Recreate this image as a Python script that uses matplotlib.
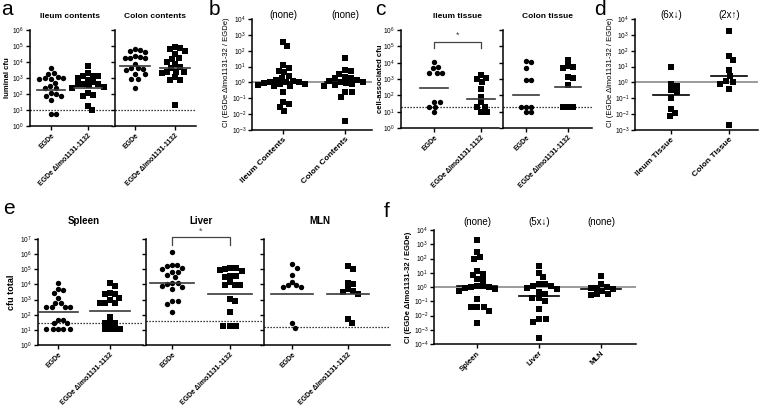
import matplotlib

matplotlib.use("Agg")

import matplotlib.pyplot as plt
import numpy as np
from matplotlib.ticker import FuncFormatter, LogLocator, NullLocator

plt.rcParams["font.family"] = ["Liberation Sans", "DejaVu Sans"]

# ---- data (log10 of values) ----
mut = "EGDe \u0394lmo1131-1132"
cfu_labels = ["EGDe", mut]

# a: luminal cfu
a_ileum_egde = [3.6, 3.29, 3.23, 3.04, 2.98, 2.98, 2.94, 2.94, 2.67, 2.52, 2.35, 2.35,
                2.05, 1.98, 1.9, 1.9, 1.6, 0.73, 0.73]
a_ileum_mut = [3.73, 3.29, 3.15, 3.15, 3.13, 2.98, 2.88, 2.77, 2.6, 2.6, 2.6, 2.55, 2.46,
               2.4, 2.04, 1.94, 1.9, 1.27, 1.0]
a_colon_egde = [4.81, 4.75, 4.69, 4.65, 4.38, 4.31, 4.23, 4.23, 4.23, 3.9, 3.6, 3.6, 3.54,
                3.5, 3.23, 3.23, 2.94, 2.94, 2.4]
a_colon_mut = [4.96, 4.9, 4.81, 4.69, 4.48, 4.23, 4.19, 4.02, 3.85, 3.67, 3.6, 3.4, 3.4,
               3.35, 3.29, 3.08, 2.88, 2.88, 1.31]
a_medians = [2.25, 2.4, 3.77, 3.65]
a_lod = 1.0

# b: CI luminal
b_labels = ["Ileum Contents", "Colon Contents"]
b_ileum = [2.58, 2.27, 1.07, 0.92, 0.75, 0.64, 0.39, 0.28, 0.17, 0.1, 0.05, 0.0, 0.0,
           -0.05, -0.08, -0.1, -0.15, -0.2, -0.25, -0.58, -1.22, -1.37, -1.55, -1.8]
b_colon = [1.57, 0.77, 0.71, 0.56, 0.34, 0.3, 0.25, 0.17, 0.1, 0.05, 0.0, -0.05, -0.1,
           -0.15, -0.2, -0.58, -0.58, -0.9, -2.45]
b_medians = [0.05, 0.0]
b_notes = ["(none)", "(none)"]

# c: cell-associated cfu
c_ileum_egde = [4.02, 3.76, 3.65, 3.39, 3.35, 3.39, 1.61, 1.61, 1.3, 1.3, 0.96]
c_ileum_mut = [3.24, 3.08, 3.0, 2.8, 2.39, 1.92, 1.57, 1.3, 1.3, 0.96, 0.96]
c_colon_egde = [4.12, 4.06, 3.65, 2.94, 2.94, 1.3, 1.3, 1.3, 0.96, 0.96]
c_colon_mut = [4.16, 3.82, 3.76, 3.7, 3.14, 3.04, 2.63, 1.3, 1.3, 1.3]
c_medians = [2.43, 1.8, 2.02, 2.53]
c_lod = 1.3

# d: CI tissue
d_labels = ["Ileum Tissue", "Colon Tissue"]
d_ileum = [1.0, -0.12, -0.2, -0.5, -0.62, -1.0, -1.65, -1.92, -2.12]
d_colon = [3.24, 1.69, 1.42, 0.76, 0.39, 0.1, 0.04, -0.1, -0.43, -2.68]
d_medians = [-0.78, 0.41]
d_notes = ["(6x\u2193)", "(2x\u2191)"]

# e: cfu total
e_spleen_egde = [4.12, 3.72, 3.63, 3.45, 3.12, 2.79, 2.79, 2.52, 2.52, 2.52, 2.52, 1.68,
                 1.68, 1.42, 1.42, 1.06, 1.06, 1.06, 1.06, 1.06]
e_spleen_mut = [4.07, 3.89, 3.45, 3.4, 3.34, 3.12, 3.0, 2.79, 2.79, 2.79, 1.86, 1.42,
                1.42, 1.42, 1.06, 1.06, 1.06, 1.06]
e_liver_egde = [6.15, 5.31, 5.27, 5.22, 5.1, 5.04, 4.82, 4.82, 4.6, 4.49, 4.11, 4.11,
                4.0, 3.9, 3.82, 3.72, 2.9, 2.9, 2.74, 2.17]
e_liver_mut = [5.11, 5.11, 5.0, 4.96, 4.9, 4.56, 4.56, 4.5, 4.18, 3.96, 3.96, 3.96, 3.05,
               2.9, 2.17, 1.28, 1.28, 1.28]
e_mln_egde = [5.33, 5.11, 4.6, 4.16, 3.93, 3.93, 3.85, 3.85, 1.46, 1.13]
e_mln_mut = [5.22, 5.04, 4.07, 4.0, 3.72, 3.56, 3.5, 3.38, 1.73, 1.46]
e_medians = [2.17, 2.23, 4.07, 3.34, 3.38, 3.34]
e_lods = [1.42, 1.57, 1.17]
e_titles = ["Spleen", "Liver", "MLN"]

# f: CI systemic
f_labels = ["Spleen", "Liver", "MLN"]
f_spleen = [3.3, 2.48, 2.08, 1.94, 1.12, 0.91, 0.84, 0.54, 0.49, 0.1, 0.05, 0.0, 0.0,
            -0.05, -0.16, -0.25, -0.84, -1.38, -1.38, -1.43, -1.66, -2.55]
f_liver = [1.47, 1.0, 0.7, 0.23, 0.19, 0.1, 0.07, -0.05, -0.16, -0.35, -0.47, -0.8, -0.8,
           -0.98, -1.52, -2.27, -2.27, -2.43, -3.6]
f_mln = [0.77, 0.23, 0.0, -0.05, -0.1, -0.16, -0.28, -0.47, -0.51, -0.58]
f_medians = [0.05, -0.63, -0.12]
f_notes = ["(none)", "(5x\u2193)", "(none)"]

ci_label = "CI (EGDe \u0394lmo1131-32 / EGDe)"

W, H = 760, 412
fig = plt.figure(figsize=(W / 100, H / 100), dpi=100)


def make_axes(box, cats_px, ylo, yhi, ylabels=True):
    x0, y0, x1, y1 = box
    ax = fig.add_axes([x0 / W, 1 - y1 / H, (x1 - x0) / W, (y1 - y0) / H])
    step = (cats_px[-1] - cats_px[0]) / (len(cats_px) - 1)
    ax.set_xlim((x0 - cats_px[0]) / step, (x1 - cats_px[0]) / step)
    ax.set_yscale("log")
    ax.set_ylim(10.0 ** ylo, 10.0 ** yhi)
    ax.yaxis.set_major_locator(LogLocator(base=10, numticks=30))
    ax.yaxis.set_minor_locator(NullLocator())
    ax.yaxis.set_major_formatter(
        FuncFormatter(lambda v, p: r"$\mathregular{10^{%d}}$" % round(np.log10(v))))
    ax.set_xticks(range(len(cats_px)))
    for side in ("top", "right"):
        ax.spines[side].set_visible(False)
    for side in ("left", "bottom"):
        ax.spines[side].set_linewidth(1.1)
    ax.tick_params(length=3, width=1, labelsize=4.8, pad=1.2)
    if not ylabels:
        ax.tick_params(axis="y", labelleft=False)
    return ax


def swarm(ax, xc, vals, d_px):
    # simple beeswarm in pixel space so equal values sit side by side
    vals = 10.0 ** np.asarray(vals, dtype=float)
    disp = ax.transData.transform(np.column_stack([np.full(len(vals), xc), vals]))
    x0 = disp[0, 0]
    ys = disp[:, 1]
    xs = np.full(len(vals), x0)
    offsets = sorted(np.arange(-12, 12.01, 0.25) * d_px, key=lambda o: (abs(o), -o))
    placed = []
    for i in np.argsort(-ys):
        for off in offsets:
            if all((x0 + off - px) ** 2 + (ys[i] - py) ** 2 >= d_px ** 2 for px, py in placed):
                xs[i] = x0 + off
                break
        placed.append((xs[i], ys[i]))
    back = ax.transData.inverted().transform(np.column_stack([xs, ys]))
    return back[:, 0], vals


def column(ax, i, vals, marker, size, d_px):
    xs, ys = swarm(ax, i, vals, d_px)
    ax.scatter(xs, ys, marker=marker, s=size, color="black", linewidths=0, zorder=3)


def median(ax, i, v, hw, color):
    ax.plot([i - hw, i + hw], [10.0 ** v] * 2, color=color, lw=1.2, zorder=4)


def cfu_pair(ax, egde, mutant, meds, hw, lod):
    column(ax, 0, egde, "o", 15, 5.2)
    column(ax, 1, mutant, "s", 14, 5.2)
    for i in range(2):
        median(ax, i, meds[i], hw, "#3a3a3a")
    ax.axhline(10.0 ** lod, color="black", lw=0.9, ls=(0, (1, 1.4)), zorder=1)
    ax.set_xticklabels(cfu_labels, rotation=45, ha="right", rotation_mode="anchor",
                       fontsize=5, fontweight="bold")


def ci_panel(ax, groups, meds, hw, labels, label_size, notes, note_pts):
    ax.axhline(1.0, color="#8a8a8a", lw=1.2, zorder=2)
    for i, vals in enumerate(groups):
        column(ax, i, vals, "s", 22, 5.9)
        median(ax, i, meds[i], hw, "black")
    ax.set_xticklabels(labels, rotation=45, ha="right", rotation_mode="anchor",
                       fontsize=label_size, fontweight="bold")
    for i, t in enumerate(notes):
        ax.annotate(t, xy=(i, 1), xycoords=("data", "axes fraction"), xytext=(0, note_pts),
                    textcoords="offset points", ha="center", va="center", fontsize=7,
                    annotation_clip=False)


def title(ax, text, pts, size):
    ax.annotate(text, xy=(0.5, 1), xycoords=("data", "axes fraction"), xytext=(0, pts),
                textcoords="offset points", ha="center", va="center", fontsize=size,
                fontweight="bold", annotation_clip=False)


def bracket(ax, top, drop, star):
    ax.plot([0, 0, 1, 1], [10.0 ** drop, 10.0 ** top, 10.0 ** top, 10.0 ** drop],
            color="#444444", lw=0.9, clip_on=False)
    ax.text(0.5, 10.0 ** star, "*", ha="center", va="center", fontsize=6.5, color="#444444")


def side_label(x, y, text, size, weight="normal"):
    fig.text(x / W, 1 - y / H, text, rotation=90, ha="center", va="center",
             fontsize=size, fontweight=weight)


def letter(x, y, text):
    fig.text(x / W, 1 - y / H, text, fontsize=15, va="baseline")


# ---- panel a ----
a1 = make_axes((30, 30, 112, 126), [51, 88], 0, 6)
a2 = make_axes((115, 30, 196, 126), [135, 175], 0, 6, ylabels=False)
cfu_pair(a1, a_ileum_egde, a_ileum_mut, a_medians[:2], 0.38, a_lod)
cfu_pair(a2, a_colon_egde, a_colon_mut, a_medians[2:], 0.38, a_lod)
title(a1, "Ileum contents", 10, 6)
title(a2, "Colon contents", 10, 6)
side_label(8, 78, "luminal cfu", 5.5, "bold")
letter(1, 15, "a")

# ---- panel b ----
b = make_axes((252, 19, 372, 130), [283, 345], -3, 4)
ci_panel(b, [b_ileum, b_colon], b_medians, 0.32, b_labels, 6, b_notes, 3)
side_label(227, 72, ci_label, 5.5)
letter(209, 15, "b")

# ---- panel c ----
c1 = make_axes((401, 30, 499, 128), [434, 481], 0, 6)
c2 = make_axes((503, 30, 592, 128), [526, 568], 0, 6, ylabels=False)
cfu_pair(c1, c_ileum_egde, c_ileum_mut, c_medians[:2], 0.3, c_lod)
cfu_pair(c2, c_colon_egde, c_colon_mut, c_medians[2:], 0.3, c_lod)
bracket(c1, 5.27, 4.9, 5.7)
title(c1, "Ileum tissue", 10, 6)
title(c2, "Colon tissue", 10, 6)
side_label(380, 79, "cell-associated cfu", 5.5, "bold")
letter(375, 15, "c")

# ---- panel d ----
d = make_axes((635, 19, 758, 130), [671, 729], -3, 4)
ci_panel(d, [d_ileum, d_colon], d_medians, 0.31, d_labels, 6, d_notes, 3)
side_label(611, 72, ci_label, 5.5)
letter(594, 15, "d")

# ---- panel e ----
e_axes = [make_axes((38, 239, 143, 345), [58, 110], 0, 7),
          make_axes((146, 239, 262, 345), [172, 230], 0, 7, ylabels=False),
          make_axes((264, 239, 390, 345), [292, 348], 0, 7, ylabels=False)]
e_groups = [(e_spleen_egde, e_spleen_mut), (e_liver_egde, e_liver_mut),
            (e_mln_egde, e_mln_mut)]
for k, ax in enumerate(e_axes):
    cfu_pair(ax, e_groups[k][0], e_groups[k][1], e_medians[2 * k:2 * k + 2], 0.38, e_lods[k])
    title(ax, e_titles[k], 13, 7)
bracket(e_axes[1], 7.15, 6.6, 7.5)
side_label(11, 292, "cfu total", 6.5, "bold")
letter(3, 214, "e")

# ---- panel f ----
f = make_axes((434, 230, 636, 344), [477, 537, 601], -4, 4)
ci_panel(f, [f_spleen, f_liver, f_mln], f_medians, 0.32, f_labels, 5.5, f_notes, 6)
side_label(408, 287, ci_label, 5.5, "bold")
letter(384, 217, "f")

fig.savefig("out.png", dpi=100)
